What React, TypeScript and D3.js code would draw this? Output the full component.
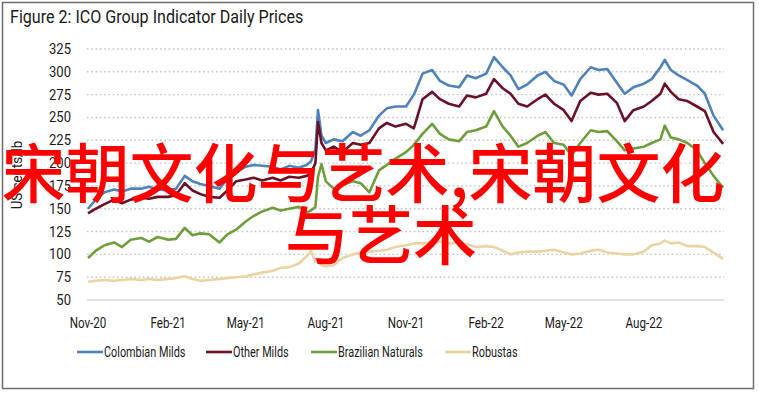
import { useEffect, useRef } from "react";
import * as d3 from "d3";

// sample dates (roughly every 10 days, plus a few around the spikes)
const dates = [
	"2020-11-01", "2020-11-10", "2020-11-20", "2020-12-01", "2020-12-10", "2020-12-20",
	"2021-01-01", "2021-01-10", "2021-01-20", "2021-02-01", "2021-02-10", "2021-02-20",
	"2021-03-01", "2021-03-10", "2021-03-20", "2021-04-01", "2021-04-10", "2021-04-20",
	"2021-05-01", "2021-05-10", "2021-05-20", "2021-06-01", "2021-06-10", "2021-06-20",
	"2021-07-01", "2021-07-10", "2021-07-15", "2021-07-20", "2021-07-23", "2021-07-27",
	"2021-08-01", "2021-08-10", "2021-08-20", "2021-09-01", "2021-09-10", "2021-09-20",
	"2021-10-01", "2021-10-10", "2021-10-20", "2021-11-01", "2021-11-10", "2021-11-20",
	"2021-12-01", "2021-12-10", "2021-12-20", "2022-01-01", "2022-01-10", "2022-01-20",
	"2022-02-01", "2022-02-10", "2022-02-20", "2022-03-01", "2022-03-10", "2022-03-20",
	"2022-04-01", "2022-04-10", "2022-04-20", "2022-05-01", "2022-05-10", "2022-05-20",
	"2022-06-01", "2022-06-10", "2022-06-20", "2022-07-01", "2022-07-10", "2022-07-20",
	"2022-08-01", "2022-08-10", "2022-08-20", "2022-08-25", "2022-09-01", "2022-09-10",
	"2022-09-20", "2022-10-01", "2022-10-10", "2022-10-20", "2022-10-31",
];

const colombianMilds = [
	150, 160, 168, 171, 169, 172, 172, 174, 171, 170, 172, 186,
	180, 177, 175, 172, 183, 190, 196, 198, 197, 196, 193, 197,
	195, 198, 202, 215, 258, 230, 222, 226, 224, 234, 230, 236,
	252, 260, 262, 262, 275, 298, 302, 290, 285, 283, 296, 293,
	298, 316, 305, 296, 281, 286, 296, 300, 290, 286, 274, 292,
	305, 302, 303, 288, 276, 283, 287, 292, 305, 313, 302, 296,
	291, 285, 276, 252, 236,
];

const otherMilds = [
	145, 150, 155, 160, 156, 160, 162, 161, 163, 163, 165, 178,
	170, 166, 163, 162, 170, 180, 182, 184, 181, 184, 181, 185,
	184, 186, 189, 200, 245, 222, 214, 218, 212, 222, 220, 222,
	238, 244, 240, 243, 238, 270, 278, 270, 265, 262, 274, 272,
	276, 292, 282, 276, 265, 262, 270, 275, 265, 258, 246, 268,
	277, 275, 276, 266, 246, 258, 262, 268, 276, 287, 278, 270,
	268, 262, 257, 234, 221,
];

const brazilianNaturals = [
	96, 104, 110, 113, 108, 116, 118, 114, 119, 116, 117, 129,
	121, 123, 122, 113, 122, 127, 136, 142, 147, 151, 148, 150,
	152, 146, 148, 152, 185, 199, 180, 172, 176, 180, 178, 168,
	192, 198, 205, 212, 220, 232, 243, 232, 226, 224, 234, 236,
	240, 257, 240, 230, 218, 222, 230, 234, 222, 220, 208, 222,
	236, 234, 235, 224, 214, 216, 218, 222, 226, 241, 228, 226,
	222, 214, 200, 186, 173,
];

const robustas = [
	70, 71, 72, 71, 72, 73, 72, 73, 72, 73, 74, 76,
	73, 71, 72, 73, 74, 75, 76, 78, 80, 82, 85, 86,
	90, 98, 104, 92, 93, 88, 87, 88, 96, 100, 102, 103,
	104, 105, 108, 110, 112, 112, 113, 114, 112, 113, 111, 108,
	109, 108, 104, 100, 102, 103, 103, 104, 105, 102, 100, 101,
	104, 105, 102, 101, 100, 100, 103, 110, 112, 115, 112, 113,
	109, 109, 108, 102, 95,
];

const seriesNames = ["Colombian Milds", "Other Milds", "Brazilian Naturals", "Robustas"];
const seriesColors = ["#4f81bd", "#6b1027", "#6e9e3c", "#ebd4a2"];

const yTicks = [50, 75, 100, 125, 150, 175, 200, 225, 250, 275, 300, 325];
const xTickDates = [
	"2020-11-01", "2021-02-01", "2021-05-01", "2021-08-01",
	"2021-11-01", "2022-02-01", "2022-05-01", "2022-08-01",
];
const xTickLabels = ["Nov-20", "Feb-21", "May-21", "Aug-21", "Nov-21", "Feb-22", "May-22", "Aug-22"];

const watermarkLines = ["宋朝文化与艺术,宋朝文化", "与艺术"];

const W = 759;
const H = 393;
const FONT = "Roboto, sans-serif";
// the original uses a narrow face; squeeze Roboto horizontally to match
const SX = 0.8;

export default function App() {
	const ref = useRef<SVGSVGElement | null>(null);

	useEffect(() => {
		const svg = d3.select(ref.current);
		svg.selectAll("*").remove();

		const parse = d3.timeParse("%Y-%m-%d");
		const x = d3
			.scaleTime()
			.domain([parse("2020-11-01")!, parse("2022-11-01")!])
			.range([88, 724]);
		const y = d3.scaleLinear().domain([50, 325]).range([300, 49]);

		// frame
		svg
			.append("rect")
			.attr("x", 2.5)
			.attr("y", 2.5)
			.attr("width", 751)
			.attr("height", 386)
			.attr("fill", "#ffffff")
			.attr("stroke", "#6d6d6d")
			.attr("stroke-width", 1.5);

		svg
			.append("text")
			.attr("transform", "translate(10,23) scale(0.92,1)")
			.attr("font-family", FONT)
			.attr("font-size", 17.5)
			.attr("fill", "#1a1a1a")
			.text("Figure 2: ICO Group Indicator Daily Prices");

		// gridlines
		const grid = svg.append("g");
		grid
			.selectAll("line")
			.data(yTicks.filter((t) => t > 50))
			.enter()
			.append("line")
			.attr("x1", 87)
			.attr("x2", 724)
			.attr("y1", (d) => y(d))
			.attr("y2", (d) => y(d))
			.attr("stroke", "#c4c4c4")
			.attr("stroke-width", 1.4)
			.attr("stroke-dasharray", "1.6 2.7");

		svg
			.append("line")
			.attr("x1", 87)
			.attr("x2", 724)
			.attr("y1", y(50))
			.attr("y2", y(50))
			.attr("stroke", "#d9d9d9")
			.attr("stroke-width", 1.3);

		// y tick labels
		svg
			.append("g")
			.selectAll("text")
			.data(yTicks)
			.enter()
			.append("text")
			.attr("transform", (d) => `translate(71,${y(d) + 5}) scale(0.9,1)`)
			.attr("text-anchor", "end")
			.attr("font-family", FONT)
			.attr("font-size", 14.5)
			.attr("fill", "#1a1a1a")
			.text((d) => d);

		svg
			.append("text")
			.attr("transform", "translate(22,175) rotate(-90) scale(0.95,1)")
			.attr("text-anchor", "middle")
			.attr("font-family", FONT)
			.attr("font-size", 14)
			.attr("fill", "#1a1a1a")
			.text("US cents/lb");

		// x tick labels
		svg
			.append("g")
			.selectAll("text")
			.data(xTickDates)
			.enter()
			.append("text")
			.attr("transform", (d) => `translate(${x(parse(d)!)},328) scale(${SX},1)`)
			.attr("text-anchor", "middle")
			.attr("font-family", FONT)
			.attr("font-size", 14.5)
			.attr("fill", "#1a1a1a")
			.text((d, i) => xTickLabels[i]);

		// series lines
		const allSeries = [colombianMilds, otherMilds, brazilianNaturals, robustas];
		const line = d3
			.line<number>()
			.x((d, i) => x(parse(dates[i])!))
			.y((d) => y(d))
			.curve(d3.curveLinear);

		allSeries.forEach((values, k) => {
			svg
				.append("path")
				.attr("d", line(values))
				.attr("fill", "none")
				.attr("stroke", seriesColors[k])
				.attr("stroke-width", 2.6)
				.attr("stroke-linejoin", "round");
		});

		// legend
		const legendX = [77, 206, 311, 445];
		const legend = svg
			.append("g")
			.selectAll("g")
			.data(seriesNames)
			.enter()
			.append("g")
			.attr("transform", (d, i) => `translate(${legendX[i]},352)`);
		legend
			.append("line")
			.attr("x1", 0)
			.attr("x2", 26)
			.attr("stroke", (d, i) => seriesColors[i])
			.attr("stroke-width", 2.6);
		legend
			.append("text")
			.attr("transform", "translate(27,5) scale(0.75,1)")
			.attr("font-family", FONT)
			.attr("font-size", 14.5)
			.attr("fill", "#1a1a1a")
			.text((d) => d);

		// red overlay text
		const wm = svg
			.append("text")
			.attr("font-family", "'Noto Sans CJK SC', sans-serif")
			.attr("font-size", 64)
			.attr("font-weight", 500)
			.attr("fill", "#ff0000")
			.attr("text-anchor", "middle");
		wm.append("tspan").attr("x", 363).attr("y", 197).text(watermarkLines[0]);
		wm.append("tspan").attr("x", 381).attr("y", 259).text(watermarkLines[1]);
	}, []);

	return (
		<svg
			ref={ref}
			width={W}
			height={H}
			style={{ position: "absolute", left: 0, top: 0, background: "#ffffff" }}
		/>
	);
}
